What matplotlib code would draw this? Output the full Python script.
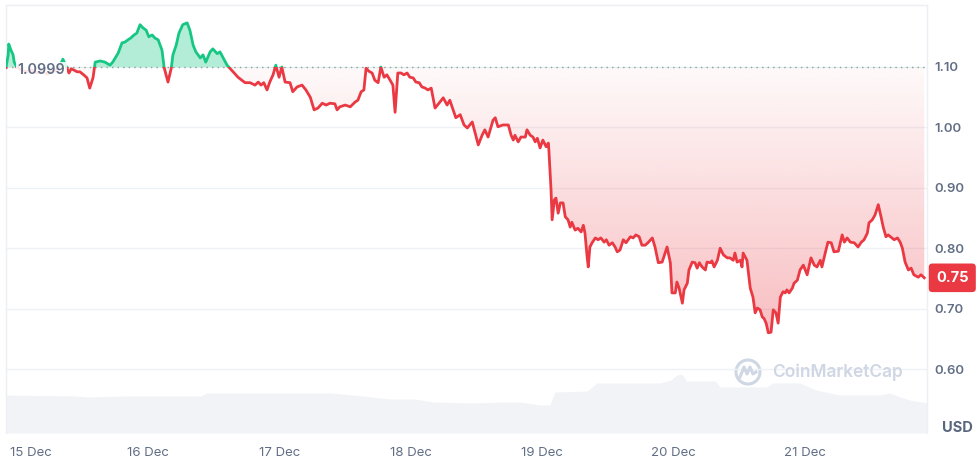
import matplotlib.pyplot as plt
import numpy as np
from matplotlib.patches import Rectangle, Circle
from matplotlib.lines import Line2D
from matplotlib.transforms import blended_transform_factory, ScaledTranslation

plt.rcParams['font.family'] = ['Inter', 'DejaVu Sans']

# hours since 15 Dec 00:00 and price in USD
hours = [-2.0, -1.6, -1.5, -1.1, -0.7, -0.5, 0.0, 0.9, 1.8, 2.7, 3.7, 4.6, 5.5, 6.4, 7.3, 7.9, 8.4,
         9.1, 9.5, 9.9, 10.4, 11.0, 11.5, 12.2, 12.8, 13.3, 13.9, 14.3, 15.2, 16.1, 17.0, 17.5,
         18.5, 19.2, 19.7, 20.3, 20.8, 21.4, 21.9, 22.5, 23.0, 23.6, 24.1, 24.7, 25.2, 25.8,
         26.5, 26.9, 27.6, 28.2, 28.5, 29.1, 29.6, 30.3, 31.1, 31.6, 32.2, 32.7, 33.5, 34.0,
         34.5, 35.3, 35.8, 36.6, 37.1, 37.7, 38.4, 38.9, 39.7, 40.4, 41.1, 41.7, 42.6, 43.5,
         44.1, 44.6, 45.1, 45.7, 46.2, 46.8, 47.3, 47.9, 48.4, 49.0, 49.9, 50.4, 51.2, 52.1,
         52.8, 53.6, 54.3, 55.0, 55.8, 56.5, 57.2, 58.1, 58.5, 59.0, 60.0, 60.9, 61.8, 62.3,
         62.9, 63.4, 63.8, 64.3, 64.9, 65.4, 66.0, 66.5, 67.1, 67.6, 68.2, 68.7, 69.1, 69.6,
         70.2, 70.7, 71.3, 71.8, 72.4, 72.9, 73.5, 74.0, 74.6, 75.1, 75.7, 76.4, 77.3, 77.9,
         78.6, 79.1, 79.7, 80.2, 81.0, 81.7, 82.3, 83.2, 84.3, 85.0, 85.5, 86.1, 87.0, 87.4,
         87.9, 88.8, 89.8, 90.3, 90.7, 91.0, 91.6, 92.1, 92.9, 93.2, 93.8, 94.3, 94.7, 95.1,
         95.6, 96.1, 96.7, 97.1, 97.2, 97.6, 97.8, 98.2, 98.5, 98.9, 99.3, 99.8, 100.2, 100.7,
         101.1, 101.4, 102.0, 102.5, 103.1, 103.5, 103.8, 104.2, 104.4, 104.7, 105.1, 105.7,
         106.2, 106.7, 107.3, 107.7, 108.2, 108.8, 109.3, 109.7, 110.2, 110.8, 111.3, 112.1,
         112.6, 113.1, 113.7, 114.2, 114.8, 115.3, 116.1, 116.6, 117.2, 117.9, 118.8, 119.4,
         119.7, 120.3, 120.6, 121.0, 121.6, 121.9, 122.5, 122.8, 123.4, 123.9, 124.3, 124.7,
         125.2, 125.8, 126.1, 126.7, 127.0, 127.4, 128.0, 128.5, 129.1, 129.8, 130.3, 130.9,
         131.2, 131.6, 132.2, 132.5, 132.7, 133.4, 134.0, 134.5, 134.9, 135.3, 135.8, 136.2,
         136.5, 136.9, 137.3, 137.8, 138.2, 138.7, 139.1, 139.5, 140.0, 140.4, 140.7, 141.1,
         141.7, 142.0, 142.6, 143.1, 143.7, 144.4, 145.1, 145.7, 146.2, 146.8, 147.1, 147.7,
         148.2, 148.8, 149.3, 150.1, 150.6, 150.8, 151.2, 151.7, 152.3, 153.0, 153.7, 154.3,
         154.8, 155.4, 155.7, 156.3, 156.8, 157.4, 157.9, 158.3, 158.8, 159.2, 159.9, 160.3,
         160.9, 161.4, 161.8, 162.3, 162.9, 163.4, 163.9, 164.7, 165.2, 165.8]
price = [1.099, 1.120, 1.138, 1.128, 1.120, 1.108, 1.099, 1.095, 1.092, 1.095, 1.090, 1.093, 1.088,
         1.092, 1.095, 1.103, 1.113,
         1.099, 1.090, 1.097, 1.095, 1.092, 1.092, 1.087, 1.082, 1.065, 1.082, 1.108, 1.110, 1.108,
         1.103, 1.108, 1.123, 1.140, 1.141, 1.145, 1.148, 1.153, 1.156, 1.170, 1.165, 1.161,
         1.150, 1.153, 1.148, 1.145, 1.128, 1.099, 1.075, 1.098, 1.120, 1.136, 1.156, 1.170,
         1.173, 1.161, 1.136, 1.125, 1.115, 1.120, 1.108, 1.125, 1.130, 1.122, 1.125, 1.115,
         1.103, 1.098, 1.090, 1.083, 1.078, 1.074, 1.074, 1.070, 1.075, 1.070, 1.074, 1.062,
         1.075, 1.087, 1.103, 1.083, 1.100, 1.075, 1.074, 1.059, 1.067, 1.070, 1.062, 1.050,
         1.029, 1.032, 1.040, 1.037, 1.040, 1.039, 1.029, 1.034, 1.037, 1.034, 1.042, 1.045,
         1.059, 1.062, 1.098, 1.093, 1.090, 1.078, 1.074, 1.100, 1.083, 1.087, 1.078, 1.070,
         1.025, 1.090, 1.090, 1.087, 1.090, 1.083, 1.082, 1.075, 1.074, 1.067, 1.065, 1.062,
         1.065, 1.032, 1.042, 1.049, 1.037, 1.045, 1.029, 1.016, 1.021, 1.004, 0.999, 1.009,
         0.971, 0.987, 0.996, 0.984, 1.012, 1.016, 1.001, 1.004, 1.004, 0.987, 0.979, 0.987,
         0.976, 0.984, 0.984, 0.996, 0.987, 0.984, 0.976, 0.982, 0.966, 0.979, 0.968, 0.974,
         0.963, 0.896, 0.847, 0.880, 0.883, 0.858, 0.875, 0.875, 0.852, 0.847, 0.835, 0.843,
         0.830, 0.833, 0.827, 0.838, 0.825, 0.785, 0.769, 0.802, 0.809, 0.817, 0.814, 0.817,
         0.810, 0.814, 0.805, 0.809, 0.802, 0.794, 0.797, 0.814, 0.809, 0.819, 0.817, 0.822,
         0.819, 0.805, 0.805, 0.809, 0.817, 0.802, 0.776, 0.777, 0.802, 0.776, 0.726, 0.726,
         0.744, 0.734, 0.709, 0.731, 0.742, 0.764, 0.777, 0.776, 0.767, 0.776, 0.769, 0.764,
         0.777, 0.776, 0.779, 0.769, 0.780, 0.800, 0.789, 0.784, 0.784, 0.780, 0.792, 0.777,
         0.780, 0.769, 0.792, 0.780, 0.734, 0.719, 0.693, 0.701, 0.698, 0.686, 0.684, 0.676,
         0.660, 0.661, 0.698, 0.693, 0.676, 0.719, 0.728, 0.726, 0.731, 0.726, 0.734, 0.742,
         0.747, 0.764, 0.772, 0.756, 0.784, 0.772, 0.769, 0.780, 0.769, 0.792, 0.810, 0.809,
         0.794, 0.795, 0.814, 0.822, 0.810, 0.817, 0.810, 0.809, 0.802, 0.810, 0.814, 0.825,
         0.842, 0.847, 0.855, 0.872, 0.852, 0.835, 0.819, 0.822, 0.817, 0.814, 0.817, 0.810,
         0.800, 0.777, 0.764, 0.767, 0.756, 0.752, 0.756, 0.751]

# volume (relative units)
vol_hours = [-2.0, 10.6, 12.6, 20.1, 33.6, 34.7, 57.3, 63.3, 68.0, 72.6, 76.1, 83.3, 88.8, 92.1,
             95.4, 97.4, 98.3, 104.2, 106.0, 117.6, 119.5, 120.6, 121.5, 122.4, 127.6, 128.5,
             137.0, 138.1, 143.1, 144.7, 146.0, 150.3, 157.7, 159.5, 161.9, 163.2, 166.3]
volume = [38, 37, 36, 37, 37, 40, 40, 37, 34, 34, 31, 30, 31, 31, 28, 28, 41, 42, 50, 50, 53, 58,
          59, 52, 52, 46, 46, 50, 50, 46, 43, 38, 38, 40, 35, 33, 30]

base = 1.0999
day_ticks = [0, 24, 48, 72, 96, 120, 144]
day_labels = ['15 Dec', '16 Dec', '17 Dec', '18 Dec', '19 Dec', '20 Dec', '21 Dec']
price_ticks = [0.60, 0.70, 0.80, 0.90, 1.00, 1.10]

green = '#16c784'
red = '#ea3943'
txt = '#616e85'

hours = np.array(hours)
price = np.array(price)
x0, x1 = -2.0, 166.3

fig = plt.figure(figsize=(9.78, 4.62), dpi=100)
ax = fig.add_axes([6/978, 29/462, 921/978, 428/462])
ax2 = ax.twinx()
ax.set_zorder(ax2.get_zorder() + 1)
ax.patch.set_visible(False)

# volume
ax2.fill_between(vol_hours, volume, 0, color='#f1f3f7', lw=0)
ax2.set_ylim(0, 428)
ax2.set_yticks([])
for s in ax2.spines.values():
    s.set_visible(False)

ax.set_xlim(x0, x1)
ax.set_ylim(0.4941, 1.2026)

for t in price_ticks[:-1]:
    ax.axhline(t, color='#eff2f5', lw=1, zorder=0)
ax.axhline(base, color='#8f97a8', lw=1, ls=(0, (1, 3)), zorder=3)

# fills
above = Rectangle((x0, base), x1 - x0, 1, transform=ax.transData)
below = Rectangle((x0, 0), x1 - x0, base, transform=ax.transData)
gf = ax.fill_between(hours, price, base, color=green, alpha=0.32, lw=0, zorder=2)
gf.set_clip_path(above)

rf = ax.fill_between(hours, np.minimum(price, base), base, color='none', lw=0)
grad = np.zeros((256, 1, 4))
grad[:, 0, :3] = np.array([234, 57, 67]) / 255
lo = 0.655
grad[:, 0, 3] = np.linspace(0.33, 0.03, 256)
im = ax.imshow(grad, extent=[x0, x1, lo, base], origin='lower', aspect='auto', zorder=2,
               interpolation='bilinear')
im.set_clip_path(rf.get_paths()[0], transform=ax.transData)

# line, split at baseline
lg, = ax.plot(hours, price, color=green, lw=2.0, zorder=4, solid_joinstyle='round')
lg.set_clip_path(above)
lr, = ax.plot(hours, price, color=red, lw=2.0, zorder=4, solid_joinstyle='round')
lr.set_clip_path(below)

# axes styling
ax.yaxis.tick_right()
ax.set_yticks(price_ticks)
ax.set_yticklabels(['%.2f' % t for t in price_ticks])
ax.tick_params(axis='y', length=0, pad=5, labelsize=9.5, labelcolor=txt)
for lab in ax.get_yticklabels():
    lab.set_fontweight('semibold')
ax.set_xticks(day_ticks)
ax.set_xticklabels(day_labels)
ax.tick_params(axis='x', length=0, pad=10, labelsize=9.5, labelcolor=txt)
first = ax.get_xticklabels()[0]
first.set_transform(first.get_transform() + ScaledTranslation(0.14, 0, fig.dpi_scale_trans))

for side in ['top', 'left', 'right']:
    ax.spines[side].set_color('#eceff3')
    ax.spines[side].set_linewidth(1)
ax.spines['bottom'].set_visible(False)

# base price label
ax.text(0.1, base - 0.005, '1.0999', ha='left', va='center', fontsize=10.3, color=txt,
        fontweight='semibold', zorder=6,
        bbox=dict(boxstyle='square,pad=0.1', fc='white', ec='none', alpha=0.88))

# last price tag
tr = blended_transform_factory(ax.transAxes, ax.transData)
ax.annotate('%.2f' % price[-1], xy=(1.0, price[-1]), xycoords=tr, xytext=(6.5, 0),
            textcoords='offset points', ha='left', va='center', fontsize=10.5,
            fontweight='bold', color='white', annotation_clip=False,
            bbox=dict(boxstyle='round,pad=0.5,rounding_size=0.25', fc=red, ec='none'))

fig.text(957/978, 34/462, 'USD', ha='center', va='center', fontsize=10.5, fontweight='bold',
         color='#58667e')

# watermark
wm = '#cfd6e4'
fig.add_artist(Circle((7.48, 0.90), 0.12, transform=fig.dpi_scale_trans, fill=False,
                      ec=wm, lw=2.2))
fig.add_artist(Line2D([7.40, 7.44, 7.47, 7.50, 7.53, 7.56], [0.85, 0.95, 0.88, 0.95, 0.88, 0.90],
                      transform=fig.dpi_scale_trans, color=wm, lw=2.2, solid_joinstyle='round'))
fig.text(772/978, 90/462, 'CoinMarketCap', ha='left', va='center', fontsize=12.5,
         fontweight='semibold', color=wm)

plt.savefig('out.png', dpi=100)
